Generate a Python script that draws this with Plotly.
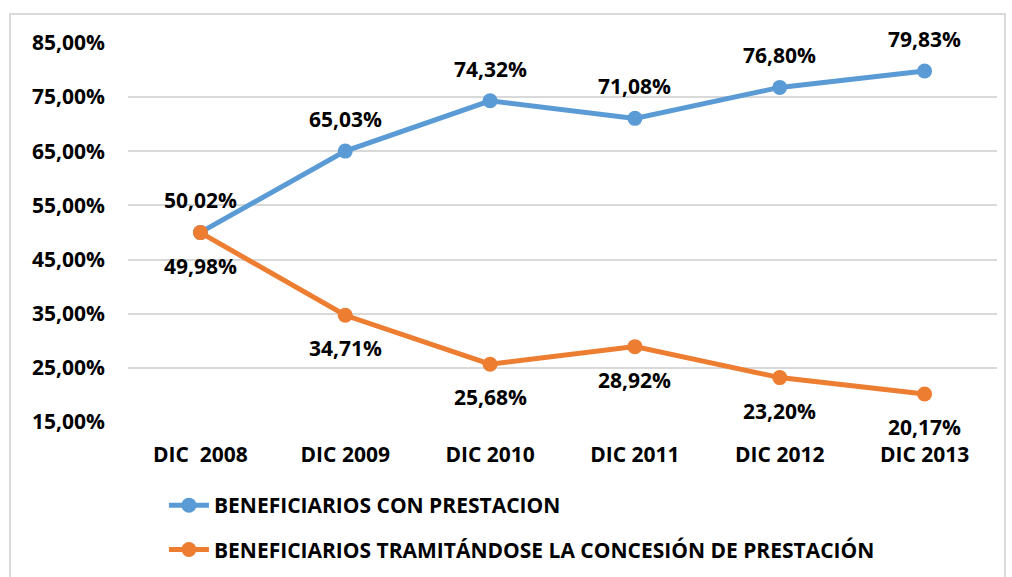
import plotly.graph_objects as go

categories = ["DIC\u00a0 2008", "DIC 2009", "DIC 2010", "DIC 2011", "DIC 2012", "DIC 2013"]
con_prestacion = [50.02, 65.03, 74.32, 71.08, 76.80, 79.83]
tramitandose = [49.98, 34.71, 25.68, 28.92, 23.20, 20.17]
y_ticks = [15, 25, 35, 45, 55, 65, 75, 85]
y_tick_labels = ["15,00%", "25,00%", "35,00%", "45,00%", "55,00%", "65,00%", "75,00%", "85,00%"]
series_names = ["BENEFICIARIOS CON PRESTACION",
                "BENEFICIARIOS TRAMITÁNDOSE LA CONCESIÓN DE PRESTACIÓN"]

BLUE = "#5B9BD5"
ORANGE = "#ED7D31"
FONT = "Open Sans"

def fmt(v):
    return f"{v:.2f}".replace(".", ",") + "%"

fig = go.Figure()
fig.add_trace(go.Scatter(x=categories, y=con_prestacion, mode="lines+markers",
                         name=series_names[0], legendgroup="a",
                         line=dict(color=BLUE, width=5),
                         marker=dict(color=BLUE, size=15)))
fig.add_trace(go.Scatter(x=categories, y=tramitandose, mode="lines+markers",
                         name=series_names[1], legendgroup="b",
                         line=dict(color=ORANGE, width=5),
                         marker=dict(color=ORANGE, size=15)))

annotations = []
for c, v in zip(categories, con_prestacion):
    annotations.append(dict(x=c, y=v, text=fmt(v), showarrow=False, yshift=32,
                            font=dict(family=FONT, size=21, color="black", weight="bold")))
for c, v in zip(categories, tramitandose):
    annotations.append(dict(x=c, y=v, text=fmt(v), showarrow=False, yshift=-33,
                            font=dict(family=FONT, size=21, color="black", weight="bold")))

fig.update_layout(
    width=1012, height=577,
    margin=dict(l=128, r=15, t=43, b=155, autoexpand=False),
    paper_bgcolor="white", plot_bgcolor="white",
    font=dict(family=FONT, size=21, color="black", weight="bold"),
    annotations=annotations,
    showlegend=True,
    legend=dict(x=0.162, y=0.1594, xref="container", yref="container",
                xanchor="left", yanchor="top", itemwidth=40,
                font=dict(family=FONT, size=21, color="black", weight="bold"),
                tracegroupgap=14, bgcolor="rgba(0,0,0,0)"),
    shapes=[dict(type="rect", xref="paper", yref="paper",
                 x0=-0.1358, x1=1.0092, y0=-0.42, y1=1.0765,
                 line=dict(color="#D9D9D9", width=2), layer="below")],
)
fig.update_xaxes(type="category", range=[-0.5, 5.5], showgrid=False, zeroline=False,
                 showline=False, ticks="", ticklabelstandoff=18,
                 tickfont=dict(family=FONT, size=21, color="black", weight="bold"))
fig.update_yaxes(range=[15, 85], tickvals=y_ticks, ticktext=y_tick_labels,
                 showgrid=True, gridcolor="#D9D9D9", gridwidth=1.5, zeroline=False,
                 showline=False, ticks="", ticklabelstandoff=22,
                 tickfont=dict(family=FONT, size=21, color="black", weight="bold"))

fig.write_html("out.html", config={"displayModeBar": False},
               post_script="document.body.style.margin='0';document.body.style.overflow='hidden';")
